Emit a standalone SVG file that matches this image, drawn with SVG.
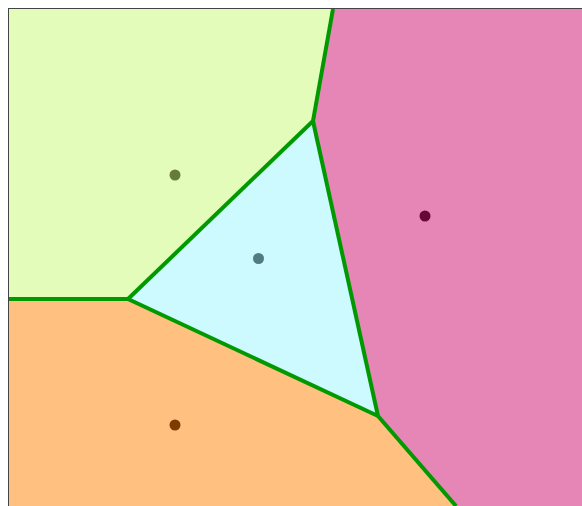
<svg xmlns="http://www.w3.org/2000/svg" width="582" height="506" viewBox="0 0 582 506">
<style>
.cell{stroke:none}
.site{stroke:none}
.edge{fill:none;stroke:#009900;stroke-width:4;stroke-linecap:butt;stroke-linejoin:miter}
</style>
<rect x="0" y="0" width="582" height="506" fill="#ffffff"/>
<g id="cell-nw">
<polygon class="cell" fill="#e3fcb9" points="9,9 333,9 313,121 128,299 9,299"/>
<circle class="site" cx="175" cy="175" r="5.5" fill="#677a36"/>
</g>
<g id="cell-e">
<polygon class="cell" fill="#e586b7" points="333,9 582,9 582,506 456,506 378,416 313,121"/>
<circle class="site" cx="425" cy="216" r="5.5" fill="#650739"/>
</g>
<g id="cell-center">
<polygon class="cell" fill="#ccfaff" points="313,121 378,416 128,299"/>
<circle class="site" cx="258.5" cy="258.5" r="5.5" fill="#4f7b81"/>
</g>
<g id="cell-sw">
<polygon class="cell" fill="#ffc080" points="9,299 128,299 378,416 456,506 9,506"/>
<circle class="site" cx="175" cy="425" r="5.5" fill="#7e3b00"/>
</g>
<rect x="8.5" y="8.5" width="600" height="600" fill="none" stroke="#444444" stroke-width="1"/>
<g id="connectors">
<line class="edge" x1="9" y1="299" x2="128" y2="299"/>
<line class="edge" x1="128" y1="299" x2="313" y2="121"/>
<line class="edge" x1="313" y1="121" x2="333" y2="9"/>
<line class="edge" x1="313" y1="121" x2="378" y2="416"/>
<line class="edge" x1="128" y1="299" x2="378" y2="416"/>
<line class="edge" x1="378" y1="416" x2="456" y2="506"/>
</g>
</svg>
